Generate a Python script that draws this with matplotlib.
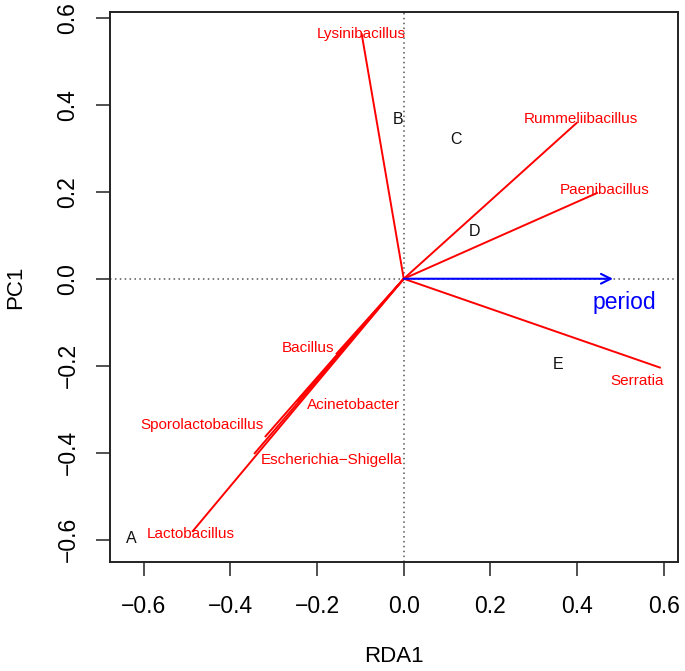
import matplotlib
matplotlib.use("Agg")
import matplotlib.pyplot as plt

plt.rcParams['font.family'] = ['Liberation Sans', 'DejaVu Sans']

# species (red lines from origin)
species = ["Lysinibacillus", "Rummeliibacillus", "Paenibacillus", "Serratia",
           "Bacillus", "Acinetobacter", "Sporolactobacillus",
           "Escherichia\u2212Shigella", "Lactobacillus"]
sp_x = [-0.097, 0.399, 0.446, 0.591, -0.155, -0.245, -0.319, -0.344, -0.487]
sp_y = [0.562, 0.358, 0.197, -0.204, -0.172, -0.280, -0.362, -0.401, -0.580]
# label centres (some moved off the line tips to avoid overlap)
lab_x = [-0.097, 0.409, 0.464, 0.538, -0.222, -0.115, -0.465, -0.166, -0.492]
lab_y = [0.562, 0.367, 0.204, -0.234, -0.158, -0.289, -0.335, -0.417, -0.587]

# sites
sites = ["A", "B", "C", "D", "E"]
site_x = [-0.630, -0.012, 0.120, 0.164, 0.357]
site_y = [-0.597, 0.367, 0.319, 0.108, -0.196]

# environmental vector
env_name = "period"
env_x, env_y = 0.483, 0.0
env_lab_x, env_lab_y = 0.51, -0.055

xticks = [-0.6, -0.4, -0.2, 0.0, 0.2, 0.4, 0.6]
yticks = [-0.6, -0.4, -0.2, 0.0, 0.2, 0.4, 0.6]

fig = plt.figure(figsize=(6.85, 6.71), dpi=100)
ax = fig.add_axes([0.1606, 0.1624, 0.8292, 0.8197])
ax.set_xlim(-0.678, 0.633)
ax.set_ylim(-0.651, 0.613)

ax.axhline(0, color="#555555", linestyle=(0, (1, 2.2)), linewidth=1.1, zorder=1)
ax.axvline(0, color="#555555", linestyle=(0, (1, 2.2)), linewidth=1.1, zorder=1)

for x, y in zip(sp_x, sp_y):
    ax.plot([0, x], [0, y], color="#ff0000", linewidth=1.4, zorder=2)
for name, x, y in zip(species, lab_x, lab_y):
    ax.text(x, y, name, color="#ff0000", fontsize=11, ha="center", va="center", zorder=3)

for name, x, y in zip(sites, site_x, site_y):
    ax.text(x, y, name, color="#111111", fontsize=11.5, ha="center", va="center", zorder=3)

ax.annotate("", xy=(env_x, env_y), xytext=(0, 0),
            arrowprops=dict(arrowstyle="->,head_length=0.7,head_width=0.35",
                            color="#0000ff", lw=1.5, shrinkA=0, shrinkB=0), zorder=3)
ax.text(env_lab_x, env_lab_y, env_name, color="#0000ff", fontsize=16.5,
        ha="center", va="center")

ax.set_xticks(xticks)
ax.set_yticks(yticks)
ax.set_xticklabels([f"{t:.1f}".replace("-", "\u2212") for t in xticks])
ax.set_yticklabels([f"{t:.1f}".replace("-", "\u2212") for t in yticks],
                   rotation=90, va="center")
ax.tick_params(axis="both", length=10, width=1.2, labelsize=16.5, color="#333333")
ax.tick_params(axis="x", pad=14)
ax.tick_params(axis="y", pad=12)
for s in ax.spines.values():
    s.set_linewidth(1.4)
    s.set_color("#222222")

ax.set_xlabel("RDA1", fontsize=16, labelpad=20)
ax.set_ylabel("PC1", fontsize=16, labelpad=22)

fig.savefig("out.png", dpi=100)
